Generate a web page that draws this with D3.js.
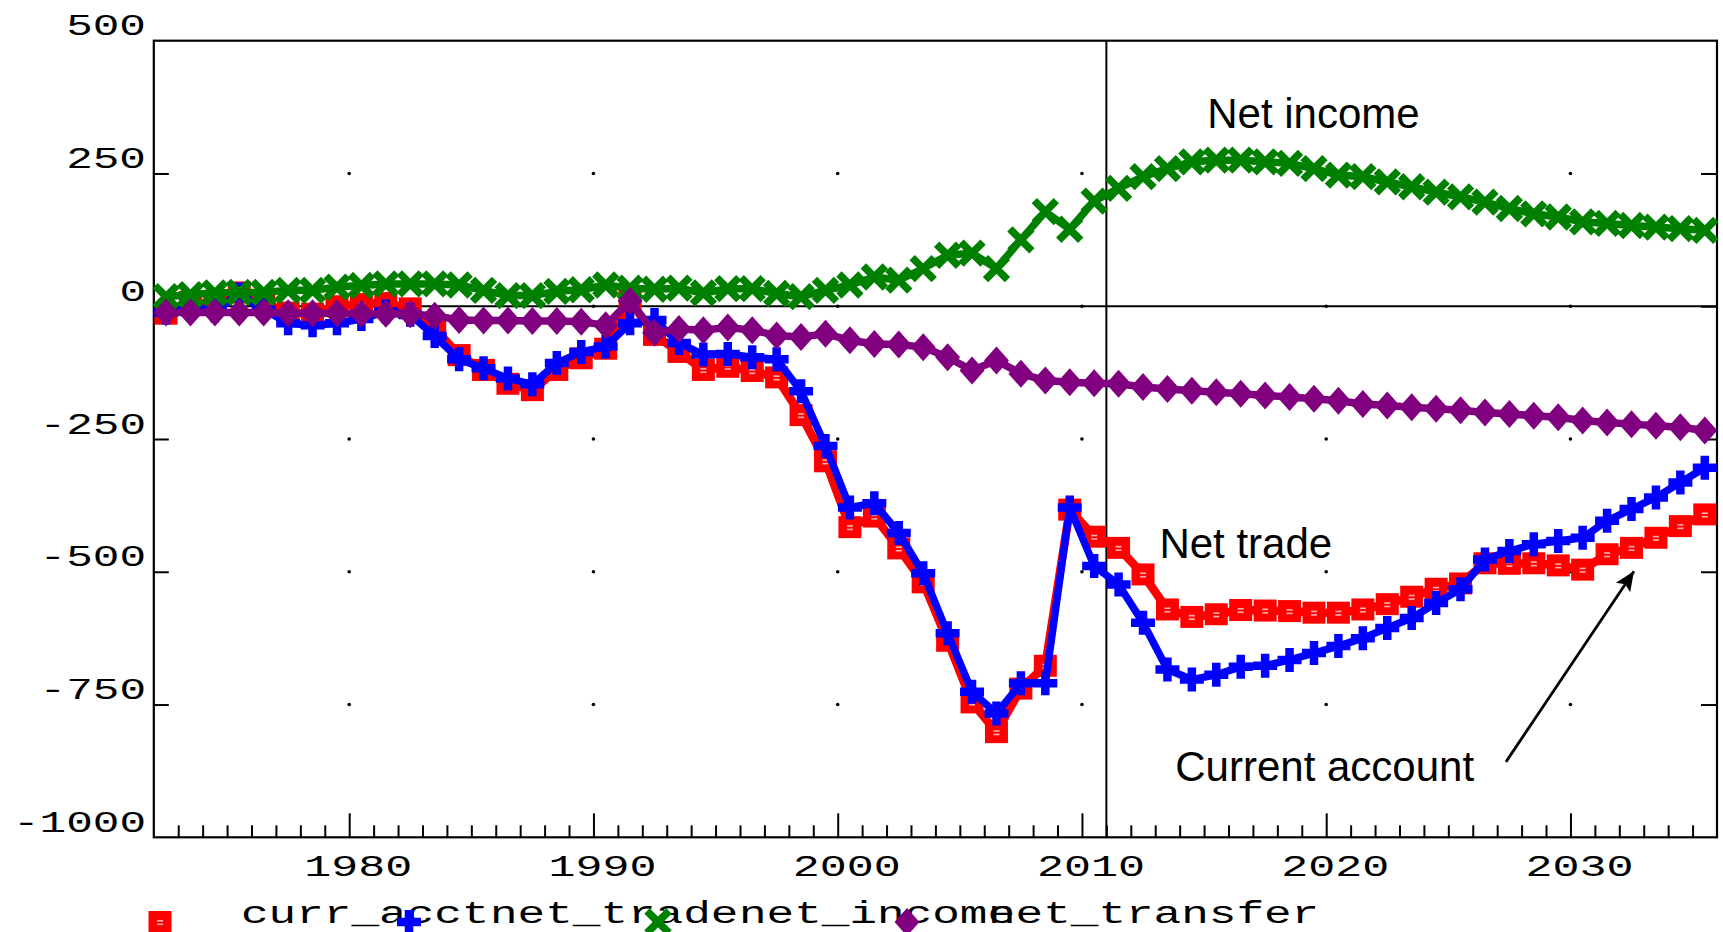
<!DOCTYPE html>
<html><head><meta charset="utf-8">
<script src="https://cdn.jsdelivr.net/npm/d3@7"></script>
<style>html,body{margin:0;padding:0;background:#fff;overflow:hidden}</style>
</head><body>
<svg id="chart" width="1723" height="932"></svg>
<script>
// ---------------- data ----------------
const years = [1972,1973,1974,1975,1976,1977,1978,1979,1980,1981,1982,1983,1984,1985,1986,1987,1988,1989,
  1990,1991,1992,1993,1994,1995,1996,1997,1998,1999,2000,2001,2002,2003,2004,2005,2006,2007,2008,2009,
  2010,2011,2012,2013,2014,2015,2016,2017,2018,2019,2020,2021,2022,2023,2024,2025,2026,2027,2028,2029,
  2030,2031,2032,2033,2034,2035];
const curr_acct = [-14,8,3,26,6,-12,-14,0,4,6,-4,-42,-92,-120,-146,-158,-120,-98,
  -80,10,-54,-86,-120,-114,-122,-134,-205,-292,-416,-396,-456,-520,-630,-746,-802,-720,-677,-383,
  -434,-455,-505,-571,-585,-580,-572,-573,-574,-577,-577,-571,-561,-547,-532,-522,-484,-485,-484,-488,
  -496,-467,-455,-436,-414,-392];
const net_trade = [-12,-2,-8,22,-6,-32,-36,-32,-24,-10,-16,-56,-100,-117,-136,-147,-107,-86,
  -76,-32,-26,-69,-91,-90,-96,-100,-160,-263,-379,-371,-427,-503,-616,-726,-767,-710,-710,-379,
  -489,-524,-596,-684,-703,-694,-679,-677,-666,-653,-640,-625,-606,-587,-559,-533,-477,-461,-448,-442,
  -436,-404,-382,-360,-332,-304];
const net_income = [18,22,25,26,26,30,30,36,39,42,42,42,40,30,20,20,28,31,
  40,34,32,34,25,33,33,24,18,30,40,55,49,71,96,100,71,125,178,145,
  198,222,244,259,272,275,275,272,269,259,247,244,234,225,215,206,196,184,174,168,
  159,156,152,149,146,143];
const net_transfer = [-12,-12,-12,-12,-12,-13,-13,-13,-14,-14,-15,-18,-26,-27,-27,-28,-28,-29,
  -36,10,-50,-43,-45,-40,-45,-55,-58,-52,-64,-71,-72,-77,-96,-121,-102,-127,-140,-143,
  -145,-146,-152,-156,-159,-162,-165,-168,-171,-174,-178,-184,-187,-190,-193,-196,-200,-203,-206,-209,
  -215,-219,-222,-225,-228,-234];

const seriesNames = ["curr_acct","net_trade","net_income","net_transfer"];
const seriesColors = ["#ff0000","#0000ff","#008000","#800080"];
const seriesShapes = ["square","plus","cross","diamond"];
const seriesValues = [curr_acct, net_trade, net_income, net_transfer];

const yTickValues = [500,250,0,-250,-500,-750,-1000];
const yTickLabels = ["500","250","0","-250","-500","-750","-1000"];
const xMajorTicks = [1980,1990,2000,2010,2020,2030];
const xTickLabels = ["1980","1990","2000","2010","2020","2030"];
const forecastStart = 2011;

const annotations = [
  {text:"Net income", year:2015.13, value:336},
  {text:"Net trade", year:2013.17, value:-474},
  {text:"Current account", year:2013.82, value:-894}
];
const arrow = {fromYear:2027.36, fromValue:-858, toYear:2032.6, toValue:-499};

// ---------------- layout ----------------
const svg = d3.select("#chart");
const L = 153.8, R = 1717, T = 40.7, B = 837.3;
const x = d3.scaleLinear().domain([1972, 2036]).range([L, R]);
const y = d3.scaleLinear().domain([-1000, 500]).range([B, T]);
const xp = yr => x(yr + 0.5); // annual observations plotted at mid-year

svg.append("rect").attr("width",1723).attr("height",932).attr("fill","#fff");

const monoFont = "'Liberation Mono','DejaVu Sans Mono',monospace";
const charW = 26.6;

// grid dots
const gridY = [250,0,-250,-500,-750];
const dots = [];
xMajorTicks.forEach(t => gridY.forEach(v => dots.push([t,v])));
svg.append("g").selectAll("circle").data(dots).join("circle")
  .attr("cx", d => x(d[0])).attr("cy", d => y(d[1])).attr("r", 1.8).attr("fill","#000");

// zero line & forecast line
svg.append("line").attr("x1",L).attr("x2",R).attr("y1",y(0)).attr("y2",y(0))
  .attr("stroke","#000").attr("stroke-width",2);
svg.append("line").attr("x1",x(forecastStart)).attr("x2",x(forecastStart)).attr("y1",T).attr("y2",B)
  .attr("stroke","#000").attr("stroke-width",2);

// border
svg.append("rect").attr("x",L).attr("y",T).attr("width",R-L).attr("height",B-T)
  .attr("fill","none").attr("stroke","#000").attr("stroke-width",2.2);

// bottom ticks (yearly minor, decade major, pointing inward)
const minorYears = d3.range(1973, 2036);
const xAxisMinor = d3.axisBottom(x).tickValues(minorYears.filter(v => v % 10 !== 0)).tickSize(-12).tickFormat("");
const xAxisMajor = d3.axisBottom(x).tickValues(xMajorTicks).tickSize(-24).tickFormat("");
[xAxisMinor, xAxisMajor].forEach(ax => {
  const g = svg.append("g").attr("transform",`translate(0,${B})`).call(ax);
  g.select(".domain").remove();
  g.selectAll("line").attr("stroke","#000").attr("stroke-width",2);
});
// left / right y ticks
const yInner = yTickValues.filter(v => v !== 500 && v !== -1000);
const gl = svg.append("g").attr("transform",`translate(${L},0)`).call(d3.axisLeft(y).tickValues(yInner).tickSize(-15).tickFormat(""));
const gr = svg.append("g").attr("transform",`translate(${R},0)`).call(d3.axisRight(y).tickValues(yInner).tickSize(-16).tickFormat(""));
[gl,gr].forEach(g => { g.select(".domain").remove(); g.selectAll("line").attr("stroke","#000").attr("stroke-width",2); });

// y labels
svg.append("g").selectAll("text").data(yTickValues).join("text")
  .attr("x", 146).attr("y", d => y(d) - 5.5)
  .attr("text-anchor","end")
  .attr("font-family", monoFont).attr("font-size", 30)
  .attr("textLength", (d,i) => yTickLabels[i].length * charW)
  .attr("lengthAdjust","spacingAndGlyphs")
  .attr("fill","#000")
  .text((d,i) => yTickLabels[i]);

// x labels
svg.append("g").selectAll("text").data(xMajorTicks).join("text")
  .attr("x", d => x(d) + 9).attr("y", 876)
  .attr("text-anchor","middle")
  .attr("font-family", monoFont).attr("font-size", 30)
  .attr("textLength", (d,i) => xTickLabels[i].length * 27)
  .attr("lengthAdjust","spacingAndGlyphs")
  .attr("fill","#000")
  .text((d,i) => xTickLabels[i]);

// marker drawing
function drawMarker(g, shape, color, cx, cy) {
  if (shape === "square") {
    g.append("rect").attr("x",cx-11.5).attr("y",cy-11).attr("width",23).attr("height",22).attr("fill",color);
    g.append("rect").attr("x",cx-3).attr("y",cy-2).attr("width",6).attr("height",1.6).attr("fill","#ffb0b0");
    g.append("rect").attr("x",cx-3).attr("y",cy+1.5).attr("width",6).attr("height",1.6).attr("fill","#ffb0b0");
  } else if (shape === "plus") {
    g.append("path").attr("d",`M${cx-12},${cy}H${cx+12}M${cx},${cy-12}V${cy+12}`)
      .attr("stroke",color).attr("stroke-width",8.5).attr("fill","none");
  } else if (shape === "cross") {
    g.append("path").attr("d",`M${cx-11},${cy-11}L${cx+11},${cy+11}M${cx-11},${cy+11}L${cx+11},${cy-11}`)
      .attr("stroke",color).attr("stroke-width",7.5).attr("fill","none");
  } else if (shape === "diamond") {
    g.append("path").attr("d",`M${cx},${cy-14}L${cx+12.5},${cy}L${cx},${cy+14}L${cx-12.5},${cy}Z`)
      .attr("fill",color);
  }
}

// series
const lineGen = d3.line().x(d => xp(d.year)).y(d => y(d.value));
seriesValues.forEach((vals, si) => {
  const data = years.map((yr,i) => ({year:yr, value:vals[i]}));
  const g = svg.append("g");
  g.append("path").datum(data).attr("d", lineGen)
    .attr("fill","none").attr("stroke",seriesColors[si])
    .attr("stroke-width", si === 0 ? 8.5 : 7.5).attr("stroke-linejoin","round");
  data.forEach(d => drawMarker(g, seriesShapes[si], seriesColors[si], xp(d.year), y(d.value)));
});

// annotations
svg.append("g").selectAll("text").data(annotations).join("text")
  .attr("x", d => x(d.year)).attr("y", d => y(d.value))
  .attr("font-family","'Liberation Sans',Arial,sans-serif").attr("font-size",42)
  .attr("fill","#000").text(d => d.text);

// arrow
const defs = svg.append("defs");
defs.append("marker").attr("id","ah").attr("viewBox","0 0 10 10").attr("refX",10).attr("refY",5)
  .attr("markerWidth",7).attr("markerHeight",7).attr("markerUnits","strokeWidth").attr("orient","auto")
  .append("path").attr("d","M0,0.6L10,5L0,9.4L2,5Z").attr("fill","#000");
svg.append("line")
  .attr("x1", x(arrow.fromYear)).attr("y1", y(arrow.fromValue))
  .attr("x2", x(arrow.toYear)).attr("y2", y(arrow.toValue))
  .attr("stroke","#000").attr("stroke-width",2.8).attr("marker-end","url(#ah)");

// legend
const legX0 = 160, legStep = 249, legY = 922;
const lg = svg.append("g");
seriesNames.forEach((name, i) => {
  drawMarker(lg, seriesShapes[i], seriesColors[i], legX0 + i*legStep, legY);
  lg.append("text").attr("x", legX0 + i*legStep + 81).attr("y", 923)
    .attr("font-family", monoFont).attr("font-size", 31)
    .attr("textLength", name.length * 27.6).attr("lengthAdjust","spacingAndGlyphs")
    .attr("fill","#000").text(name);
});
</script>
</body></html>
